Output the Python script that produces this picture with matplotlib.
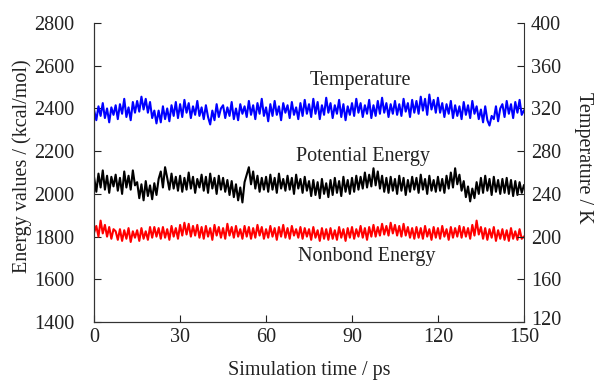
import numpy as np
import matplotlib
matplotlib.use("Agg")
import matplotlib.pyplot as plt
import matplotlib.transforms as mtransforms

# temperature (K), right axis
temp = [318, 309, 322, 313, 325, 311, 320, 307, 321, 314,
        323, 310, 324, 315, 329, 312, 321, 309, 326, 316,
        327, 317, 331, 319, 329, 316, 326, 311, 318, 306,
        318, 307, 322, 310, 320, 308, 323, 313, 326, 311,
        324, 312, 328, 316, 325, 311, 322, 314, 327, 313,
        321, 310, 323, 312, 305, 318, 309, 324, 312, 320,
        323, 311, 321, 313, 326, 310, 320, 309, 324, 315,
        322, 312, 327, 314, 323, 310, 325, 315, 329, 313,
        321, 308, 324, 313, 327, 314, 322, 309, 325, 316,
        323, 311, 326, 314, 321, 310, 325, 313, 328, 315,
        324, 312, 329, 315, 326, 310, 323, 314, 330, 316,
        325, 311, 323, 315, 328, 312, 324, 309, 322, 314,
        325, 313, 329, 316, 325, 312, 323, 315, 328, 311,
        323, 313, 327, 315, 330, 316, 325, 312, 324, 315,
        327, 314, 324, 313, 329, 317, 325, 312, 328, 316,
        327, 315, 331, 318, 329, 314, 333, 319, 328, 316,
        330, 316, 325, 312, 324, 315, 327, 311, 323, 313,
        322, 310, 326, 314, 323, 311, 327, 315, 322, 310,
        319, 307, 322, 309, 304, 313, 310, 322, 308, 320,
        324, 312, 327, 315, 324, 311, 326, 316, 328, 314,
        318]

# potential energy (kcal/mol)
potential = [2075, 2010, 2095, 2030, 2110, 2020, 2085, 2005, 2080, 2035,
             2090, 2015, 2075, 2000, 2105, 2030, 2085, 2020, 2110, 2040,
             2055, 1980, 2045, 1970, 2060, 1990, 2040, 1975, 2050, 1995,
             2070, 2105, 2030, 2125, 2075, 2020, 2095, 2025, 2080, 2015,
             2085, 2010, 2075, 2020, 2100, 2025, 2080, 2005, 2070, 2030,
             2090, 2015, 2080, 2005, 2095, 2025, 2075, 2000, 2085, 2020,
             2075, 2010, 2065, 1995, 2060, 1985, 2045, 1970, 2030, 1960,
             2055, 2090, 2125, 2045, 2105, 2025, 2085, 2010, 2075, 2020,
             2080, 2010, 2090, 2020, 2075, 2005, 2095, 2025, 2070, 2015,
             2085, 2020, 2075, 2000, 2090, 2025, 2070, 2005, 2080, 2015,
             2060, 1990, 2065, 1995, 2055, 1980, 2070, 2000, 2050, 1985,
             2065, 1995, 2075, 2005, 2060, 1990, 2080, 2010, 2065, 2000,
             2075, 2010, 2085, 2020, 2080, 2025, 2100, 2030, 2090, 2035,
             2120, 2040, 2105, 2025, 2085, 2010, 2075, 2005, 2080, 2015,
             2070, 2000, 2085, 2015, 2075, 1995, 2065, 2010, 2080, 2020,
             2075, 2005, 2090, 2020, 2070, 2000, 2085, 2015, 2065, 2010,
             2080, 2015, 2070, 2005, 2085, 2025, 2100, 2030, 2120, 2045,
             2090, 2015, 2060, 1985, 2035, 1965, 2025, 1980, 2055, 2000,
             2075, 2005, 2085, 2015, 2070, 1995, 2080, 2010, 2065, 2000,
             2070, 2005, 2075, 2000, 2065, 1990, 2060, 1995, 2055, 2005,
             2040]

# nonbond energy (kcal/mol)
nonbond = [1820, 1850, 1800, 1875, 1815, 1855, 1800, 1845, 1790, 1835,
           1825, 1785, 1835, 1780, 1830, 1790, 1840, 1775, 1825, 1795,
           1830, 1780, 1840, 1790, 1825, 1785, 1845, 1795, 1845, 1800,
           1840, 1790, 1845, 1795, 1835, 1785, 1850, 1800, 1840, 1790,
           1855, 1805, 1865, 1810, 1860, 1800, 1850, 1805, 1855, 1795,
           1845, 1790, 1850, 1800, 1840, 1785, 1855, 1805, 1845, 1795,
           1840, 1790, 1860, 1805, 1845, 1795, 1850, 1800, 1835, 1790,
           1850, 1800, 1845, 1790, 1840, 1795, 1855, 1805, 1845, 1790,
           1835, 1795, 1850, 1800, 1840, 1785, 1845, 1800, 1855, 1795,
           1840, 1790, 1850, 1805, 1835, 1795, 1845, 1790, 1840, 1800,
           1835, 1785, 1845, 1795, 1830, 1780, 1840, 1790, 1835, 1785,
           1840, 1790, 1830, 1785, 1845, 1795, 1835, 1780, 1840, 1795,
           1845, 1790, 1835, 1800, 1850, 1795, 1840, 1785, 1845, 1800,
           1855, 1800, 1845, 1805, 1860, 1810, 1850, 1805, 1865, 1815,
           1855, 1805, 1850, 1800, 1860, 1805, 1845, 1795, 1840, 1790,
           1845, 1795, 1840, 1790, 1850, 1800, 1835, 1785, 1845, 1795,
           1840, 1790, 1850, 1800, 1835, 1785, 1845, 1795, 1840, 1800,
           1850, 1795, 1845, 1800, 1840, 1790, 1855, 1805, 1875, 1810,
           1845, 1790, 1840, 1785, 1835, 1795, 1845, 1780, 1830, 1790,
           1835, 1785, 1830, 1780, 1840, 1790, 1825, 1785, 1835, 1790,
           1800]

time = np.linspace(0, 150, len(temp))

x_ticks = [0, 30, 60, 90, 120, 150]
e_ticks = [1400, 1600, 1800, 2000, 2200, 2400, 2600, 2800]
t_ticks = [120, 160, 200, 240, 280, 320, 360, 400]

plt.rcParams['font.family'] = ['Liberation Serif', 'DejaVu Serif']
plt.rcParams['font.size'] = 14.5
txt = '#222222'

fig = plt.figure(figsize=(5.96, 3.83), dpi=100)
ax = fig.add_axes([0.158, 0.159, 0.721, 0.781])
ax2 = ax.twinx()

ax.plot(time, potential, color='black', lw=1.5)
ax.plot(time, nonbond, color='#ff0000', lw=1.5)
ax2.plot(time, temp, color='#0000ff', lw=1.5)

ax.set_xlim(0, 150)
ax.set_ylim(1400, 2800)
ax2.set_ylim(120, 400)
ax.set_xticks(x_ticks)
ax.set_yticks(e_ticks)
ax2.set_yticks(t_ticks)

for a in (ax, ax2):
    a.spines['top'].set_visible(False)
    for s in a.spines.values():
        s.set_color('#333333')
ax.spines['right'].set_visible(False)

ax.tick_params(axis='x', direction='in', length=5, pad=4, colors=txt)
ax.tick_params(axis='y', direction='in', length=5, pad=14, colors=txt)
ax2.tick_params(axis='y', direction='in', length=5, pad=5, colors=txt)

# lift the lowest right-hand label a little, as in the original
lift = mtransforms.ScaledTranslation(0, 3 / 72, fig.dpi_scale_trans)
low = ax2.get_yticklabels()[0]
low.set_transform(low.get_transform() + lift)

ax.set_xlabel('Simulation time / ps', color=txt)
ax.xaxis.set_label_coords(0.5, -0.13)
ax.set_ylabel('Energy values / (kcal/mol)', color=txt)
ax.yaxis.set_label_coords(-0.144, 0.52)
ax2.set_ylabel('Temperature / K', color=txt, rotation=-90)
ax2.yaxis.set_label_coords(1.16, 0.55)

ax.text(93.1, 2533, 'Temperature', ha='center', va='center', color=txt)
ax.text(93.8, 2177, 'Potential Energy', ha='center', va='center', color=txt)
ax.text(95.2, 1709, 'Nonbond Energy', ha='center', va='center', color=txt)

fig.savefig('out.png', dpi=100)
